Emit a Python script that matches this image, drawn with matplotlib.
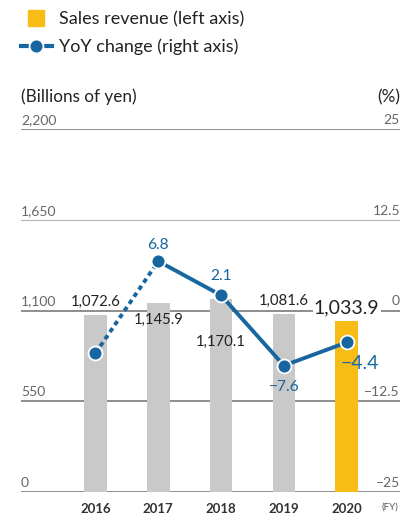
import matplotlib
matplotlib.use("Agg")
import matplotlib.pyplot as plt
from matplotlib.lines import Line2D
import matplotlib.transforms as mtrans

plt.rcParams['font.family'] = ['Lato', 'DejaVu Sans']

years = ["2016", "2017", "2018", "2019", "2020"]
sales = [1072.6, 1145.9, 1170.1, 1081.6, 1033.9]
sales_labels = ["1,072.6", "1,145.9", "1,170.1", "1,081.6", "1,033.9"]
yoy = [-5.9, 6.8, 2.1, -7.6, -4.4]
yoy_labels = [None, "6.8", "2.1", "\u22127.6", "\u22124.4"]
left_ticks = [0, 550, 1100, 1650, 2200]
left_tick_labels = ["0", "550", "1,100", "1,650", "2,200"]
right_ticks = [-25, -12.5, 0, 12.5, 25]
right_tick_labels = ["\u221225", "\u221212.5", "0", "12.5", "25"]

GRAY = "#c8c9c8"
YELLOW = "#f7bd16"
BLUE = "#17669f"
DARK = "#222222"
TICK = "#666666"

W, H = 405, 518
fig = plt.figure(figsize=(W / 100, H / 100), dpi=100)
ax_l, ax_r = 21 / W, 400 / W
ax_b, ax_t = 1 - 491.7 / H, 1 - 129.3 / H
ax = fig.add_axes([ax_l, ax_b, ax_r - ax_l, ax_t - ax_b])
ax2 = ax.twinx()

x = list(range(len(years)))
colors = [GRAY] * (len(years) - 1) + [YELLOW]
ax.bar(x, sales, width=0.36, color=colors, zorder=2)
ax.set_ylim(0, 2200)
ax.set_xlim(-1.186, 4.849)
ax2.set_ylim(-25, 25)

for a in (ax, ax2):
    for s in a.spines.values():
        s.set_visible(False)
    a.set_yticks([])
    a.tick_params(length=0)
ax.set_xticks(x)
ax.set_xticklabels(years, fontsize=9.5, fontweight='bold', color="#333333")
ax.tick_params(axis='x', pad=8)

# gridlines
for t in left_ticks:
    light = t == 1650
    ax.axhline(t, color="#b5b5b5" if light else "#6f6f6f", lw=0.8 if light else 1.1, zorder=1)

trl = mtrans.blended_transform_factory(ax.transAxes, ax.transData)
for t, lab in zip(left_ticks, left_tick_labels):
    ax.text(0.0, t, lab, transform=trl + mtrans.ScaledTranslation(0, 3 / 100, fig.dpi_scale_trans),
            ha='left', va='bottom', fontsize=10, color=TICK)
trr = mtrans.blended_transform_factory(ax2.transAxes, ax2.transData)
for t, lab in zip(right_ticks, right_tick_labels):
    ax2.text(1.0, t, lab, transform=trr + mtrans.ScaledTranslation(0, 3 / 100, fig.dpi_scale_trans),
             ha='right', va='bottom', fontsize=10, color=TICK)

# sales labels (offsets in px -> pt)
sales_off = [13, -17.3, -42.7, 13, 13.7]
for i, (v, lab, off) in enumerate(zip(sales, sales_labels, sales_off)):
    big = i == len(sales) - 1
    kw = dict(bbox=dict(facecolor='white', edgecolor='none', pad=1)) if big else {}
    ax.annotate(lab, (i, v), xytext=(0, off * 0.72), textcoords='offset points',
                ha='center', va='center', fontsize=14 if big else 10.7, color=DARK, zorder=5, **kw)

# YoY line
ax2.plot(x[:2], yoy[:2], color=BLUE, lw=2.8, dashes=(1.2, 1.0), zorder=3)
ax2.plot(x[1:], yoy[1:], color=BLUE, lw=2.8, solid_capstyle='round', zorder=3)
ax2.plot(x, yoy, ls='none', marker='o', markersize=10, color=BLUE,
         markeredgecolor='white', markeredgewidth=1.3, zorder=4)

yoy_off = [None, (0, 16.7), (0, 19), (0, -21), (13, -20.7)]
for i, (v, lab, off) in enumerate(zip(yoy, yoy_labels, yoy_off)):
    if lab is None:
        continue
    big = i == len(yoy) - 1
    ax2.annotate(lab, (i, v), xytext=(off[0] * 0.72, off[1] * 0.72), textcoords='offset points',
                 ha='center', va='center', fontsize=14 if big else 11.2, color=BLUE, zorder=5)

# headers
fig.text(21 / W, 1 - 97 / H, "(Billions of yen)", ha='left', va='center', fontsize=12.3, color=DARK)
fig.text(400 / W, 1 - 97 / H, "(%)", ha='right', va='center', fontsize=12.3, color=DARK)
fig.text(398 / W, 1 - 507 / H, "(FY)", ha='right', va='center', fontsize=7, color="#555555")

handles = [
    Line2D([], [], marker='s', ls='none', color=YELLOW, markersize=11.5),
    Line2D([], [], marker='o', ls='-', lw=3, color=BLUE, markersize=10,
           markeredgecolor='white', markeredgewidth=1.3),
]
fig.legend(handles, ["Sales revenue (left axis)", "YoY change (right axis)"],
           loc='upper left', bbox_to_anchor=(17 / W, 1 - 8 / H), frameon=False,
           fontsize=13, handlelength=1.75, handletextpad=0.35, labelspacing=0.6,
           labelcolor=DARK, borderaxespad=0, borderpad=0.2)

fig.savefig("out.png", dpi=100)
